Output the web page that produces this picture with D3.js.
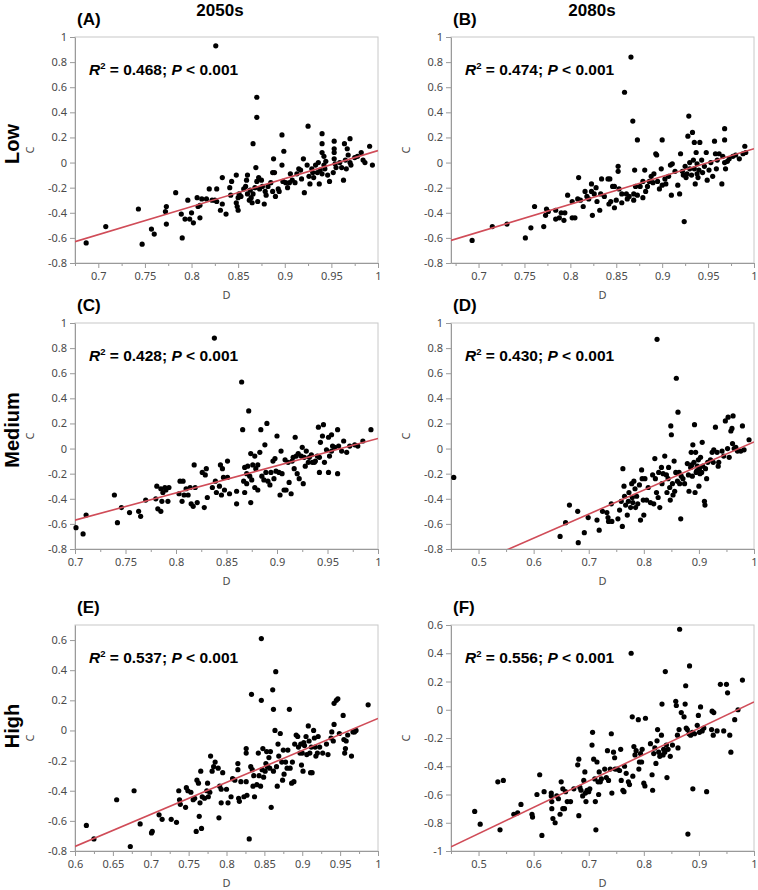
<!DOCTYPE html>
<html><head><meta charset="utf-8">
<script src="https://cdn.jsdelivr.net/npm/d3@7"></script>
<style>body{margin:0;background:#fff} svg{display:block}</style>
</head><body>
<script>
// ---------------- DATA ----------------
const panelIds = ["(A)","(B)","(C)","(D)","(E)","(F)"];
const columnTitles = ["2050s","2080s"];
const rowTitles = ["Low","Medium","High"];
const r2Values = ["0.468","0.474","0.428","0.430","0.537","0.556"];
const pText = "< 0.001";
const xTitle = "D";
const yTitle = "C";

const xDomains = [[0.675,1],[0.67,1],[0.7,1],[0.45,1],[0.6,1],[0.45,1]];
const yDomains = [[-0.8,1],[-0.8,1],[-0.8,1],[-0.8,1],[-0.8,0.7],[-1,0.6]];

const xTicks050 = [0.7,0.75,0.8,0.85,0.9,0.95,1];
const xTicksC = [0.7,0.75,0.8,0.85,0.9,0.95,1];
const xTicks100 = [0.5,0.6,0.7,0.8,0.9,1];
const xTicksE = [0.6,0.65,0.7,0.75,0.8,0.85,0.9,0.95,1];
const yTicks1 = [-0.8,-0.6,-0.4,-0.2,0,0.2,0.4,0.6,0.8,1];
const yTicksE = [-0.8,-0.6,-0.4,-0.2,0,0.2,0.4,0.6];
const yTicksF = [-1,-0.8,-0.6,-0.4,-0.2,0,0.2,0.4,0.6];

const fitSlopes = [2.231, 2.212, 2.167, 1.917, 2.125, 1.864];
const fitIntercepts = [-2.136, -2.102, -2.087, -1.864, -2.045, -1.809];

// [D, C] pairs
const pointsA = [[0.687,-0.64],[0.708,-0.51],[0.743,-0.37],[0.747,-0.65],[0.757,-0.53],[0.760,-0.57],[0.773,-0.35],[0.772,-0.39],[0.773,-0.49],[0.783,-0.24],[0.789,-0.41],[0.790,-0.60],[0.793,-0.45],[0.796,-0.30],[0.798,-0.45],[0.800,-0.40],[0.802,-0.48],[0.806,-0.28],[0.807,-0.35],[0.809,-0.44],[0.809,-0.34],[0.811,-0.29],[0.816,-0.29],[0.819,-0.21],[0.822,-0.30],[0.825,-0.30],[0.827,-0.21],[0.827,-0.31],[0.826,0.93],[0.831,-0.38],[0.833,-0.12],[0.833,-0.33],[0.837,-0.41],[0.841,-0.20],[0.843,-0.15],[0.842,-0.26],[0.848,-0.10],[0.848,-0.32],[0.849,-0.35],[0.850,-0.28],[0.850,-0.38],[0.851,-0.25],[0.853,-0.27],[0.858,-0.19],[0.860,-0.25],[0.860,-0.10],[0.859,-0.14],[0.862,-0.30],[0.863,-0.22],[0.865,-0.32],[0.866,-0.25],[0.866,0.15],[0.868,-0.20],[0.869,-0.04],[0.870,0.52],[0.870,0.36],[0.870,-0.15],[0.872,-0.12],[0.871,-0.31],[0.873,-0.21],[0.875,-0.14],[0.876,-0.19],[0.878,-0.33],[0.879,-0.23],[0.882,-0.19],[0.885,-0.16],[0.887,-0.08],[0.887,-0.23],[0.888,0.03],[0.889,-0.08],[0.890,-0.27],[0.893,-0.21],[0.894,-0.23],[0.897,0.22],[0.897,-0.02],[0.899,0.09],[0.898,-0.15],[0.901,-0.16],[0.903,-0.20],[0.905,-0.16],[0.906,-0.09],[0.908,-0.14],[0.911,-0.16],[0.913,-0.09],[0.915,-0.05],[0.918,-0.13],[0.920,0.03],[0.921,-0.24],[0.924,-0.02],[0.925,0.29],[0.926,-0.11],[0.927,-0.17],[0.929,-0.05],[0.930,-0.08],[0.933,-0.02],[0.935,-0.08],[0.936,0.00],[0.937,-0.17],[0.938,-0.06],[0.940,0.23],[0.940,0.15],[0.940,0.08],[0.940,-0.09],[0.942,0.05],[0.942,-0.02],[0.943,-0.05],[0.944,0.01],[0.948,-0.15],[0.952,-0.08],[0.953,0.17],[0.953,0.11],[0.953,0.08],[0.953,0.03],[0.954,-0.01],[0.955,-0.04],[0.959,0.00],[0.961,-0.04],[0.963,-0.14],[0.964,0.15],[0.965,0.02],[0.966,-0.05],[0.967,0.11],[0.968,0.06],[0.970,0.00],[0.970,0.19],[0.971,-0.02],[0.975,0.04],[0.978,0.05],[0.982,0.08],[0.984,0.02],[0.986,0.00],[0.991,0.13],[0.994,-0.02],[0.917,-0.06],[0.931,-0.12],[0.946,-0.10],[0.880,-0.26],[0.856,-0.21],[0.864,-0.28]];

const pointsB = [[0.693,-0.62],[0.715,-0.51],[0.731,-0.49],[0.751,-0.60],[0.757,-0.52],[0.761,-0.35],[0.771,-0.51],[0.773,-0.42],[0.774,-0.37],[0.776,-0.39],[0.784,-0.38],[0.784,-0.45],[0.788,-0.44],[0.790,-0.40],[0.793,-0.46],[0.794,-0.40],[0.797,-0.26],[0.802,-0.31],[0.802,-0.44],[0.805,-0.44],[0.808,-0.29],[0.809,-0.12],[0.811,-0.30],[0.814,-0.35],[0.816,-0.23],[0.818,-0.27],[0.820,-0.29],[0.823,-0.17],[0.823,-0.23],[0.824,-0.42],[0.826,-0.25],[0.828,-0.20],[0.829,-0.31],[0.832,-0.38],[0.833,-0.25],[0.834,-0.13],[0.837,-0.27],[0.841,-0.13],[0.842,-0.33],[0.843,-0.13],[0.844,-0.31],[0.846,-0.19],[0.848,-0.36],[0.848,-0.19],[0.850,-0.30],[0.852,-0.03],[0.852,-0.07],[0.853,-0.21],[0.856,-0.25],[0.856,-0.32],[0.859,0.56],[0.861,-0.25],[0.862,-0.29],[0.864,-0.27],[0.866,0.84],[0.868,0.33],[0.869,-0.25],[0.869,-0.30],[0.870,-0.06],[0.871,-0.19],[0.873,0.18],[0.873,-0.26],[0.876,-0.19],[0.879,-0.28],[0.879,-0.15],[0.881,-0.06],[0.882,-0.23],[0.884,-0.19],[0.886,-0.15],[0.888,-0.11],[0.890,-0.16],[0.891,-0.09],[0.893,0.07],[0.894,0.06],[0.895,-0.15],[0.897,-0.21],[0.899,-0.05],[0.900,-0.18],[0.900,0.18],[0.903,-0.13],[0.904,-0.17],[0.907,-0.11],[0.909,-0.02],[0.910,-0.26],[0.911,-0.01],[0.914,-0.07],[0.917,-0.18],[0.919,-0.25],[0.920,0.07],[0.922,-0.07],[0.923,-0.10],[0.924,-0.47],[0.925,-0.03],[0.927,-0.09],[0.928,0.21],[0.929,0.37],[0.930,0.00],[0.930,-0.05],[0.932,-0.10],[0.933,0.24],[0.934,0.02],[0.935,0.16],[0.935,-0.05],[0.936,-0.17],[0.937,0.08],[0.938,-0.09],[0.938,-0.01],[0.940,-0.06],[0.941,0.16],[0.943,0.02],[0.946,-0.03],[0.948,0.08],[0.949,-0.14],[0.951,-0.06],[0.953,0.00],[0.955,-0.11],[0.957,0.17],[0.958,0.07],[0.959,-0.05],[0.960,0.02],[0.962,0.07],[0.965,-0.17],[0.966,0.05],[0.968,0.27],[0.968,0.18],[0.968,0.00],[0.969,-0.05],[0.971,0.01],[0.973,0.03],[0.977,0.05],[0.980,0.06],[0.984,0.03],[0.988,0.07],[0.990,0.13],[0.991,0.08],[0.939,-0.12],[0.926,-0.12],[0.944,-0.08]];

const pointsC = [[0.701,-0.63],[0.708,-0.68],[0.711,-0.53],[0.739,-0.37],[0.742,-0.59],[0.746,-0.47],[0.754,-0.51],[0.763,-0.50],[0.765,-0.54],[0.770,-0.41],[0.780,-0.40],[0.781,-0.30],[0.782,-0.48],[0.785,-0.50],[0.785,-0.32],[0.786,-0.42],[0.787,-0.35],[0.789,-0.31],[0.790,-0.33],[0.792,-0.42],[0.793,-0.31],[0.803,-0.36],[0.804,-0.26],[0.806,-0.42],[0.807,-0.26],[0.808,-0.37],[0.810,-0.32],[0.812,-0.37],[0.814,-0.31],[0.815,-0.44],[0.817,-0.46],[0.818,-0.13],[0.819,-0.31],[0.821,-0.43],[0.826,-0.19],[0.828,-0.47],[0.829,-0.21],[0.830,-0.16],[0.831,-0.39],[0.836,-0.31],[0.838,0.88],[0.839,-0.26],[0.840,-0.35],[0.843,-0.30],[0.844,-0.13],[0.846,-0.16],[0.845,-0.37],[0.847,-0.23],[0.848,-0.33],[0.851,-0.10],[0.851,-0.23],[0.853,-0.36],[0.860,-0.34],[0.860,-0.44],[0.865,0.53],[0.866,0.15],[0.867,-0.26],[0.868,-0.35],[0.868,-0.15],[0.870,-0.20],[0.870,-0.28],[0.871,-0.14],[0.872,0.30],[0.873,-0.22],[0.874,-0.43],[0.874,-0.04],[0.875,-0.25],[0.876,-0.13],[0.878,-0.31],[0.878,-0.06],[0.879,-0.16],[0.881,-0.13],[0.881,-0.33],[0.883,-0.03],[0.884,0.15],[0.885,-0.22],[0.887,-0.25],[0.888,0.03],[0.889,-0.19],[0.890,0.20],[0.891,-0.26],[0.893,-0.29],[0.894,-0.19],[0.896,-0.10],[0.897,-0.24],[0.898,-0.08],[0.899,-0.18],[0.900,0.10],[0.902,-0.19],[0.903,-0.37],[0.904,-0.02],[0.905,-0.20],[0.907,-0.33],[0.908,-0.09],[0.909,-0.33],[0.911,-0.11],[0.912,-0.27],[0.914,-0.36],[0.915,-0.10],[0.916,-0.07],[0.917,-0.16],[0.918,0.09],[0.919,-0.06],[0.920,-0.20],[0.921,-0.04],[0.922,-0.24],[0.924,-0.06],[0.925,0.01],[0.926,-0.28],[0.927,-0.07],[0.928,-0.14],[0.929,-0.02],[0.931,-0.11],[0.932,-0.07],[0.934,-0.05],[0.935,-0.11],[0.937,-0.11],[0.938,-0.10],[0.940,-0.06],[0.941,0.17],[0.942,-0.07],[0.942,-0.19],[0.943,0.05],[0.945,0.10],[0.946,0.19],[0.947,-0.11],[0.949,-0.01],[0.951,-0.19],[0.951,0.09],[0.952,-0.06],[0.954,0.11],[0.954,-0.02],[0.955,0.02],[0.957,0.01],[0.960,-0.20],[0.960,0.15],[0.961,0.02],[0.964,-0.02],[0.966,0.06],[0.969,-0.03],[0.972,0.02],[0.977,0.03],[0.980,0.02],[0.985,0.06],[0.993,0.15]];

const pointsD = [[0.455,-0.23],[0.648,-0.70],[0.658,-0.59],[0.665,-0.45],[0.680,-0.50],[0.681,-0.75],[0.692,-0.67],[0.699,-0.55],[0.715,-0.57],[0.719,-0.65],[0.725,-0.50],[0.733,-0.51],[0.735,-0.55],[0.736,-0.58],[0.741,-0.44],[0.742,-0.58],[0.753,-0.56],[0.756,-0.49],[0.759,-0.42],[0.761,-0.62],[0.762,-0.16],[0.764,-0.30],[0.765,-0.38],[0.767,-0.45],[0.770,-0.53],[0.772,-0.42],[0.773,-0.35],[0.776,-0.47],[0.778,-0.28],[0.779,-0.39],[0.780,-0.43],[0.782,-0.26],[0.784,-0.32],[0.785,-0.47],[0.787,-0.38],[0.789,-0.44],[0.792,-0.29],[0.794,-0.57],[0.796,-0.17],[0.797,-0.24],[0.799,-0.41],[0.800,-0.53],[0.802,-0.24],[0.805,-0.41],[0.808,-0.31],[0.812,-0.43],[0.816,-0.21],[0.818,-0.44],[0.820,-0.08],[0.821,-0.24],[0.823,-0.35],[0.824,0.87],[0.826,-0.39],[0.827,-0.19],[0.829,-0.47],[0.832,-0.15],[0.833,-0.28],[0.835,-0.20],[0.838,-0.06],[0.841,-0.21],[0.842,-0.35],[0.844,-0.24],[0.845,-0.15],[0.847,-0.31],[0.848,-0.41],[0.849,0.18],[0.850,0.11],[0.852,-0.28],[0.853,-0.37],[0.855,-0.10],[0.856,-0.34],[0.858,-0.19],[0.859,0.56],[0.861,-0.26],[0.862,0.29],[0.864,-0.19],[0.865,-0.28],[0.867,-0.56],[0.868,-0.22],[0.871,-0.24],[0.874,-0.28],[0.879,-0.12],[0.881,-0.21],[0.882,-0.34],[0.885,-0.15],[0.886,-0.03],[0.888,-0.22],[0.889,0.03],[0.891,-0.11],[0.892,0.19],[0.893,-0.35],[0.894,-0.03],[0.895,-0.19],[0.897,-0.14],[0.899,-0.09],[0.900,-0.30],[0.901,-0.16],[0.903,-0.07],[0.905,-0.19],[0.906,0.05],[0.907,-0.14],[0.910,-0.42],[0.911,-0.45],[0.912,-0.16],[0.914,-0.24],[0.916,-0.11],[0.921,-0.09],[0.924,-0.03],[0.926,-0.11],[0.927,-0.01],[0.930,0.17],[0.933,-0.03],[0.935,-0.14],[0.936,-0.11],[0.942,-0.02],[0.945,-0.06],[0.948,0.22],[0.952,0.00],[0.953,0.25],[0.955,-0.07],[0.958,0.14],[0.960,0.16],[0.961,0.04],[0.962,0.26],[0.964,0.00],[0.967,0.01],[0.970,-0.02],[0.976,-0.02],[0.979,0.18],[0.982,-0.01],[0.991,0.07],[0.896,-0.18],[0.902,-0.20],[0.887,-0.13]];

const pointsE = [[0.615,-0.63],[0.625,-0.72],[0.655,-0.46],[0.673,-0.77],[0.678,-0.40],[0.686,-0.62],[0.701,-0.68],[0.702,-0.67],[0.711,-0.56],[0.715,-0.59],[0.727,-0.59],[0.734,-0.61],[0.737,-0.40],[0.738,-0.46],[0.739,-0.49],[0.746,-0.51],[0.747,-0.38],[0.749,-0.40],[0.753,-0.41],[0.756,-0.46],[0.758,-0.45],[0.760,-0.67],[0.761,-0.33],[0.763,-0.35],[0.764,-0.57],[0.765,-0.48],[0.766,-0.27],[0.767,-0.65],[0.768,-0.44],[0.771,-0.45],[0.774,-0.40],[0.775,-0.35],[0.776,-0.44],[0.778,-0.41],[0.779,-0.17],[0.781,-0.27],[0.783,-0.24],[0.785,-0.21],[0.789,-0.25],[0.790,-0.58],[0.791,-0.37],[0.793,-0.48],[0.793,-0.39],[0.795,-0.28],[0.800,-0.39],[0.802,-0.48],[0.806,-0.44],[0.808,-0.32],[0.811,-0.33],[0.815,-0.22],[0.815,-0.26],[0.816,-0.45],[0.817,-0.47],[0.819,-0.34],[0.823,-0.44],[0.826,-0.12],[0.826,-0.15],[0.826,-0.34],[0.827,-0.43],[0.830,-0.72],[0.832,-0.24],[0.833,0.24],[0.834,-0.26],[0.835,-0.37],[0.836,-0.30],[0.837,-0.44],[0.840,-0.36],[0.842,-0.15],[0.843,-0.30],[0.845,-0.37],[0.846,0.61],[0.846,0.20],[0.847,-0.26],[0.848,-0.12],[0.849,-0.31],[0.851,-0.27],[0.852,-0.22],[0.853,-0.14],[0.854,-0.24],[0.856,-0.18],[0.857,-0.25],[0.858,-0.14],[0.859,-0.51],[0.861,0.27],[0.862,0.14],[0.862,-0.27],[0.864,0.00],[0.865,0.39],[0.866,-0.24],[0.867,-0.37],[0.868,-0.09],[0.869,-0.17],[0.871,-0.02],[0.873,-0.21],[0.874,-0.33],[0.875,-0.13],[0.876,-0.29],[0.878,-0.21],[0.880,-0.25],[0.881,-0.13],[0.883,0.14],[0.884,-0.25],[0.886,-0.35],[0.887,-0.21],[0.889,-0.34],[0.890,-0.09],[0.892,-0.03],[0.894,-0.04],[0.895,-0.11],[0.897,-0.15],[0.898,-0.09],[0.899,-0.23],[0.900,-0.15],[0.901,-0.27],[0.902,-0.08],[0.903,-0.10],[0.905,-0.04],[0.906,-0.16],[0.908,0.03],[0.909,-0.07],[0.910,-0.15],[0.911,-0.28],[0.912,-0.11],[0.913,-0.28],[0.915,0.00],[0.916,-0.05],[0.917,-0.11],[0.918,-0.17],[0.920,-0.15],[0.921,-0.04],[0.923,-0.11],[0.927,-0.15],[0.932,-0.09],[0.934,-0.16],[0.938,-0.05],[0.939,-0.01],[0.941,-0.07],[0.942,0.18],[0.942,0.04],[0.945,0.20],[0.947,0.21],[0.949,-0.02],[0.954,0.10],[0.955,-0.06],[0.956,-0.15],[0.957,-0.12],[0.958,-0.07],[0.960,-0.03],[0.965,-0.17],[0.967,-0.01],[0.969,-0.01],[0.971,0.00],[0.987,0.17]];

const pointsF = [[0.493,-0.72],[0.503,-0.81],[0.535,-0.51],[0.539,-0.85],[0.545,-0.50],[0.564,-0.74],[0.571,-0.73],[0.577,-0.67],[0.597,-0.74],[0.598,-0.76],[0.606,-0.60],[0.611,-0.46],[0.615,-0.89],[0.619,-0.58],[0.632,-0.59],[0.632,-0.61],[0.633,-0.65],[0.633,-0.70],[0.635,-0.77],[0.639,-0.80],[0.642,-0.61],[0.645,-0.63],[0.648,-0.74],[0.650,-0.51],[0.653,-0.70],[0.653,-0.56],[0.656,-0.70],[0.658,-0.58],[0.661,-0.65],[0.667,-0.65],[0.673,-0.56],[0.680,-0.39],[0.682,-0.35],[0.682,-0.75],[0.684,-0.55],[0.686,-0.57],[0.689,-0.61],[0.691,-0.50],[0.693,-0.44],[0.694,-0.59],[0.695,-0.65],[0.697,-0.57],[0.700,-0.58],[0.702,-0.56],[0.706,-0.25],[0.707,-0.16],[0.709,-0.35],[0.711,-0.49],[0.712,-0.65],[0.713,-0.85],[0.715,-0.37],[0.717,-0.51],[0.718,-0.60],[0.719,-0.44],[0.721,-0.51],[0.723,-0.49],[0.729,-0.42],[0.732,-0.48],[0.734,-0.29],[0.736,-0.50],[0.739,-0.42],[0.741,-0.17],[0.742,-0.59],[0.745,-0.30],[0.747,-0.34],[0.748,-0.42],[0.752,-0.42],[0.756,-0.43],[0.758,-0.28],[0.759,-0.50],[0.762,-0.57],[0.764,-0.58],[0.765,-0.40],[0.768,-0.45],[0.772,-0.51],[0.774,-0.53],[0.777,0.40],[0.779,-0.05],[0.780,-0.47],[0.782,-0.26],[0.784,-0.32],[0.786,-0.29],[0.790,-0.07],[0.791,-0.42],[0.792,-0.37],[0.794,-0.31],[0.796,-0.37],[0.797,-0.28],[0.800,-0.52],[0.802,-0.54],[0.803,-0.06],[0.812,-0.24],[0.815,-0.46],[0.816,-0.57],[0.818,-0.31],[0.820,-0.27],[0.822,-0.38],[0.824,-0.22],[0.825,-0.14],[0.827,-0.30],[0.829,-0.33],[0.832,-0.18],[0.833,0.04],[0.835,-0.32],[0.836,-0.28],[0.838,-0.30],[0.839,0.27],[0.841,-0.25],[0.842,-0.48],[0.844,-0.28],[0.848,-0.33],[0.852,-0.25],[0.858,0.06],[0.859,0.03],[0.861,-0.18],[0.862,-0.27],[0.864,-0.14],[0.865,0.57],[0.868,-0.02],[0.873,-0.05],[0.875,0.04],[0.876,0.17],[0.877,-0.13],[0.879,-0.14],[0.880,-0.88],[0.882,-0.17],[0.883,0.31],[0.885,-0.18],[0.888,-0.16],[0.889,-0.56],[0.892,-0.17],[0.897,-0.11],[0.899,-0.04],[0.901,-0.16],[0.903,0.02],[0.906,-0.15],[0.909,-0.13],[0.914,-0.58],[0.923,-0.14],[0.924,-0.01],[0.926,-0.18],[0.927,-0.02],[0.933,-0.15],[0.939,0.18],[0.945,-0.15],[0.950,0.18],[0.952,0.12],[0.956,-0.18],[0.958,-0.30],[0.965,-0.07],[0.971,0.00],[0.979,0.21]];

const allPoints = [pointsA, pointsB, pointsC, pointsD, pointsE, pointsF];
const allXTicks = [xTicks050, xTicks050, xTicksC, xTicks100, xTicksE, xTicks100];
const allYTicks = [yTicks1, yTicks1, yTicks1, yTicks1, yTicksE, yTicksF];

// ---------------- LAYOUT ----------------
const W = 758, H = 890;
const colLeft = [75, 451];
const plotW = 303;
const rowTop = [37, 323, 625];
const plotH = 226;
const titleX = [220, 592];
const rowLabelY = [144, 430, 726];

const svg = d3.select("body").append("svg").attr("width", W).attr("height", H)
  .style("font-family", "'Liberation Sans', Arial, sans-serif");

const tickFont = "'Noto Sans', 'Open Sans', sans-serif";
const tickColor = "#4a4a4a";
const axisColor = "#9a9a9a";
const lineColor = "#d04c58";

columnTitles.forEach((t, i) => {
  svg.append("text").attr("x", titleX[i]).attr("y", 16)
    .attr("text-anchor", "middle").attr("font-weight", "bold").attr("font-size", 17).text(t);
});
rowTitles.forEach((t, i) => {
  svg.append("text").attr("transform", `translate(19,${rowLabelY[i]}) rotate(-90)`)
    .attr("text-anchor", "middle").attr("font-weight", "bold").attr("font-size", 20).text(t);
});

for (let p = 0; p < 6; p++) {
  const row = Math.floor(p / 2), col = p % 2;
  const x0 = colLeft[col], y0 = rowTop[row];
  const g = svg.append("g").attr("transform", `translate(${x0},${y0})`);
  const x = d3.scaleLinear().domain(xDomains[p]).range([0, plotW]);
  const y = d3.scaleLinear().domain(yDomains[p]).range([plotH, 0]);

  svg.append("text").attr("x", x0 + 2).attr("y", y0 - 12)
    .attr("font-weight", "bold").attr("font-size", 17).text(panelIds[p]);

  g.append("rect").attr("width", plotW).attr("height", plotH)
    .attr("fill", "none").attr("stroke", "#c8c8c8").attr("stroke-width", 1);

  const xt = allXTicks[p];
  const step = xt[1] - xt[0];
  let minor = xt.slice(0, -1).map((v, i) => (v + xt[i + 1]) / 2);
  minor.unshift(xt[0] - step / 2);
  minor = minor.filter(v => v >= xDomains[p][0] - 1e-9);

  const xAxis = g.append("g").attr("transform", `translate(0,${plotH})`)
    .call(d3.axisBottom(x).tickValues(xt).tickSize(5).tickSizeOuter(0).tickFormat(d => String(d)));
  const xMinor = g.append("g").attr("transform", `translate(0,${plotH})`)
    .call(d3.axisBottom(x).tickValues(minor).tickSize(3).tickSizeOuter(0).tickFormat(""));
  xMinor.select(".domain").remove();
  const yAxis = g.append("g")
    .call(d3.axisLeft(y).tickValues(allYTicks[p]).tickSize(5).tickSizeOuter(0).tickFormat(d => String(d)));

  [xAxis, xMinor, yAxis].forEach(a => {
    a.selectAll(".domain").attr("stroke", axisColor);
    a.selectAll(".tick line").attr("stroke", axisColor);
    a.selectAll(".tick text").attr("fill", tickColor).attr("font-size", 11).attr("font-family", tickFont);
  });
  xAxis.selectAll(".tick text").attr("dy", "0.85em");

  g.append("text").attr("x", plotW / 2).attr("y", plotH + 36).attr("text-anchor", "middle")
    .attr("font-family", tickFont).attr("font-size", 11).attr("fill", tickColor).text(xTitle);
  g.append("text").attr("transform", `translate(${-41},${plotH / 2}) rotate(-90)`).attr("text-anchor", "middle")
    .attr("font-family", tickFont).attr("font-size", 11).attr("fill", tickColor).text(yTitle);

  const clipId = "clip" + p;
  g.append("clipPath").attr("id", clipId).append("rect").attr("width", plotW).attr("height", plotH);

  g.append("g").selectAll("circle").data(allPoints[p]).join("circle")
    .attr("cx", d => x(d[0])).attr("cy", d => y(d[1])).attr("r", 2.6).attr("fill", "#000");

  const xd = xDomains[p];
  const lineData = [xd[0], xd[1]].map(v => [v, fitIntercepts[p] + fitSlopes[p] * v]);
  g.append("path").attr("clip-path", `url(#${clipId})`)
    .attr("d", d3.line().x(d => x(d[0])).y(d => y(d[1]))(lineData))
    .attr("stroke", lineColor).attr("stroke-width", 1.6).attr("fill", "none");

  const t = g.append("text").attr("x", 14).attr("y", 38).attr("font-weight", "bold").attr("font-size", 15.5);
  t.append("tspan").attr("font-style", "italic").text("R");
  t.append("tspan").attr("font-size", 9.5).attr("dy", -6).text("2");
  t.append("tspan").attr("dy", 6).text(" = " + r2Values[p] + "; ");
  t.append("tspan").attr("font-style", "italic").text("P");
  t.append("tspan").text(" " + pText);
}
</script>
</body></html>
